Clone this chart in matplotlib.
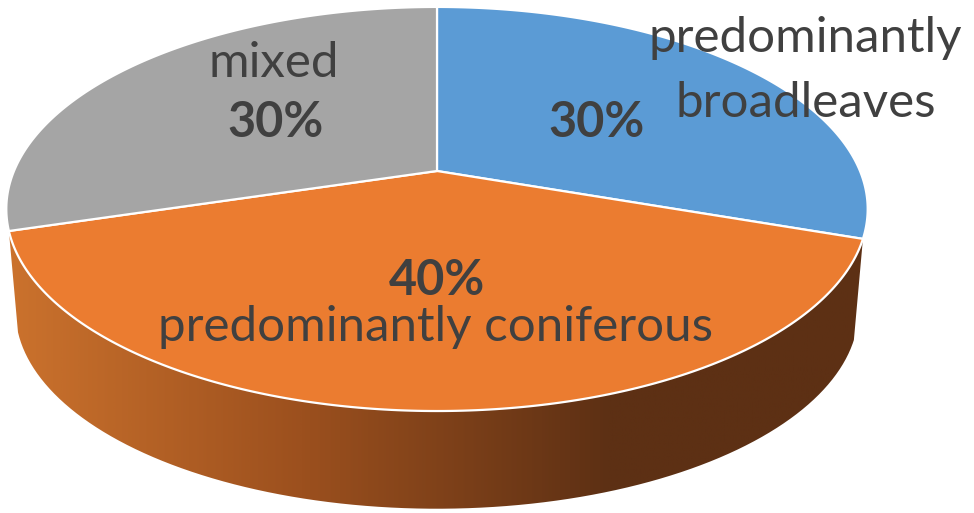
import numpy as np
import matplotlib
matplotlib.use("Agg")
import matplotlib.pyplot as plt
from matplotlib.patches import Polygon, PathPatch
from matplotlib.path import Path
from matplotlib.colors import LinearSegmentedColormap

categories = ["predominantly\nbroadleaves", "predominantly coniferous", "mixed"]
values = [30.3, 40.0, 29.7]
colors = ["#5B9BD5", "#EB7C30", "#A5A5A5"]
pct_labels = ["30%", "40%", "30%"]

W, H = 974, 513
CX, CY = 437.0, 171.0
A, B, K = 423.0, 194.9, 0.188
A2, B2, CY2, K2 = 414.0, 191.0, 273.5, 0.188


def project(theta, a=A, b=B, cy=CY, k=K):
    c, d = np.sin(theta), -np.cos(theta)
    w = 1 - k * d
    return CX + a * c / w, cy + b * d / w


fig = plt.figure(figsize=(W / 100, H / 100), dpi=100)
ax = fig.add_axes([0, 0, 1, 1])
ax.set_xlim(0, W)
ax.set_ylim(H, 0)
ax.axis("off")

fractions = np.array(values) / sum(values)
edges = np.concatenate([[0], np.cumsum(fractions)]) * 2 * np.pi

# side wall of the front slice
t = np.linspace(edges[1], edges[2], 300)
tx, ty = project(t)
bx, by = project(t[::-1], A2, B2, CY2, K2)
side = Path(np.column_stack([np.r_[tx, bx, tx[0]], np.r_[ty, by, ty[0]]]))
cmap = LinearSegmentedColormap.from_list("side", ["#CB722D", "#9C501E", "#5D3014", "#5D3014"], N=256)
patch = PathPatch(side, fc="none", ec="none")
ax.add_patch(patch)
# gradient stops at x = 8, 300, 610, 870
xs = np.linspace(8, 870, 400)
pos = np.interp(xs, [8, 300, 610, 870], [0, 1 / 3, 2 / 3, 1]).reshape(1, -1)
im = ax.imshow(pos, extent=[8, 870, 515, 225], cmap=cmap, vmin=0, vmax=1, aspect="auto", zorder=1)
im.set_clip_path(patch)
ax.set_xlim(0, W)
ax.set_ylim(H, 0)

# top face slices
for i, col in enumerate(colors):
    t = np.linspace(edges[i], edges[i + 1], 200)
    x, y = project(t)
    ax.add_patch(Polygon(np.column_stack([np.r_[CX, x], np.r_[CY, y]]), closed=True,
                         fc=col, ec="white", lw=1.6, joinstyle="miter", zorder=2))

font = "Lato"
TXT = "#404040"
fs, fb = 35.5, 35
ax.text(805, 52, "predominantly", ha="center", va="baseline", fontsize=fs, family=font, color=TXT, zorder=3)
ax.text(806, 117, "broadleaves", ha="center", va="baseline", fontsize=fs, family=font, color=TXT, zorder=3)
ax.text(597, 137, pct_labels[0], ha="center", va="baseline", fontsize=fb, family=font, weight="bold", color=TXT, zorder=3)
ax.text(437, 295, pct_labels[1], ha="center", va="baseline", fontsize=fb, family=font, weight="bold", color=TXT, zorder=3)
ax.text(435, 341, categories[1], ha="center", va="baseline", fontsize=fs, family=font, color=TXT, zorder=3)
ax.text(274, 77, categories[2], ha="center", va="baseline", fontsize=fs, family=font, color=TXT, zorder=3)
ax.text(276, 137, pct_labels[2], ha="center", va="baseline", fontsize=fb, family=font, weight="bold", color=TXT, zorder=3)

fig.savefig("out.png", dpi=100, facecolor="white")
